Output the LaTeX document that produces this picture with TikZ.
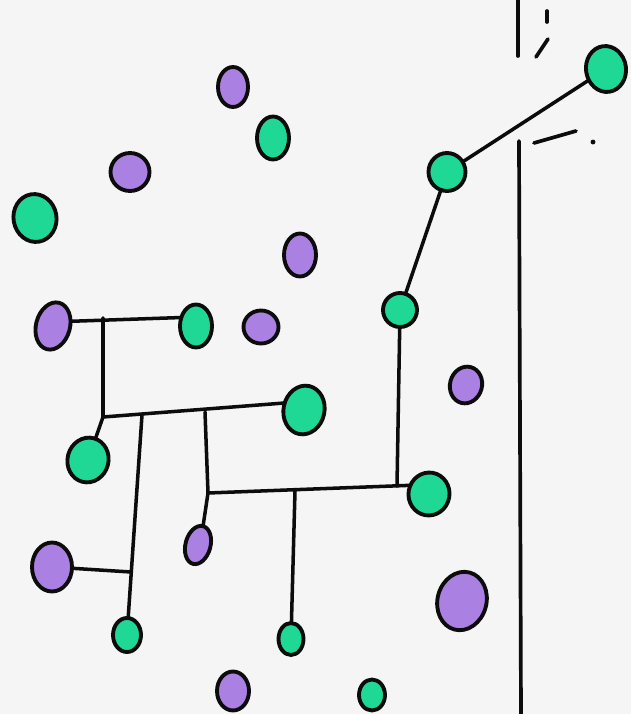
\documentclass[tikz,border=0pt]{standalone}
\usetikzlibrary{shapes.geometric}
\definecolor{bg}{RGB}{246,245,245}
\definecolor{gfill}{RGB}{32,216,150}
\definecolor{pfill}{RGB}{170,128,226}
\definecolor{ink}{RGB}{12,12,12}
\tikzset{
  blob/.style={ellipse, draw=ink, line width=2.2pt, inner sep=0pt, outer sep=0pt},
  gblob/.style={blob, fill=gfill},
  pblob/.style={blob, fill=pfill},
  link/.style={draw=ink, line width=2pt, line cap=round},
  wall/.style={draw=ink, line width=2.1pt, line cap=round},
}
\begin{document}
\begin{tikzpicture}[x=0.02cm, y=-0.02cm]
\fill[bg] (0,0) rectangle (631,714);
\useasboundingbox (0,0) rectangle (631,714);

% wall
\coordinate (wt1) at (518,-2);
\coordinate (wb1) at (518,56);
\coordinate (wt2) at (519,141);
\coordinate (wb2) at (521,716);
\draw[wall] (wt1) -- (wb1);
\draw[wall] (wt2) -- (wb2);
\coordinate (d1a) at (547,11);
\coordinate (d1b) at (547,22);
\draw[wall] (d1a) -- (d1b);
\coordinate (d2a) at (536,57);
\coordinate (d2b) at (548,39);
\draw[wall] (d2a) -- (d2b);
\coordinate (d3a) at (534,143);
\coordinate (d3b) at (576,131);
\draw[wall] (d3a) -- (d3b);
\coordinate (d4) at (593,142);
\fill[ink] (d4) circle (1.4pt);

% green blobs
\node[gblob, minimum width=0.80cm, minimum height=0.92cm, rotate=8] (g1) at (606,69) {};
\node[gblob, minimum width=0.64cm, minimum height=0.86cm] (g2) at (273,138) {};
\node[gblob, minimum width=0.86cm, minimum height=0.96cm, rotate=10] (g3) at (35,218) {};
\node[gblob, minimum width=0.74cm, minimum height=0.76cm] (g4) at (447,172) {};
\node[gblob, minimum width=0.68cm, minimum height=0.68cm] (g5) at (400,310) {};
\node[gblob, minimum width=0.64cm, minimum height=0.86cm] (g6) at (196,326) {};
\node[gblob, minimum width=0.82cm, minimum height=0.98cm, rotate=-12] (g7) at (304,410) {};
\node[gblob, minimum width=0.82cm, minimum height=0.90cm, rotate=-15] (g8) at (88,460) {};
\node[gblob, minimum width=0.82cm, minimum height=0.86cm, rotate=-10] (g9) at (429,494) {};
\node[gblob, minimum width=0.56cm, minimum height=0.68cm] (g10) at (127,635) {};
\node[gblob, minimum width=0.50cm, minimum height=0.64cm] (g11) at (291,639) {};
\node[gblob, minimum width=0.52cm, minimum height=0.62cm] (g12) at (372,695) {};

% purple blobs
\node[pblob, minimum width=0.60cm, minimum height=0.80cm] (p1) at (233,87) {};
\node[pblob, minimum width=0.78cm, minimum height=0.76cm] (p2) at (130,172) {};
\node[pblob, minimum width=0.64cm, minimum height=0.86cm] (p3) at (300,255) {};
\node[pblob, minimum width=0.68cm, minimum height=0.96cm, rotate=-15] (p4) at (53,326) {};
\node[pblob, minimum width=0.70cm, minimum height=0.66cm] (p5) at (261,327) {};
\node[pblob, minimum width=0.64cm, minimum height=0.74cm, rotate=-15] (p6) at (466,385) {};
\node[pblob, minimum width=0.50cm, minimum height=0.78cm, rotate=-15] (p7) at (198,545) {};
\node[pblob, minimum width=0.80cm, minimum height=0.98cm] (p8) at (52,567) {};
\node[pblob, minimum width=0.98cm, minimum height=1.18cm, rotate=-15] (p9) at (462,601) {};
\node[pblob, minimum width=0.64cm, minimum height=0.78cm] (p10) at (233,691) {};

% junctions
\coordinate (ja) at (397,486);
\coordinate (jb) at (208,493);
\coordinate (jc) at (205,412);
\coordinate (jd) at (103,417);
\coordinate (je) at (103,318);
\coordinate (jf) at (142,415);
\coordinate (jg) at (131,572);
\coordinate (jh) at (295,491);

% connectors
\draw[link] (g1) -- (g4);
\draw[link] (g4) -- (g5);
\draw[link] (g5) -- (ja);
\draw[link] (jb) -- (g9.165);
\draw[link] (jc) -- (jb) -- (p7.north);
\draw[link] (jh) -- (g11);
\draw[link] (jd) -- (g7.172);
\draw[link] (je) -- (jd) -- (g8);
\draw[link] (p4.30) -- (g6.150);
\draw[link] (jf) -- (g10);
\draw[link] (p8) -- (jg);
\end{tikzpicture}
\end{document}
